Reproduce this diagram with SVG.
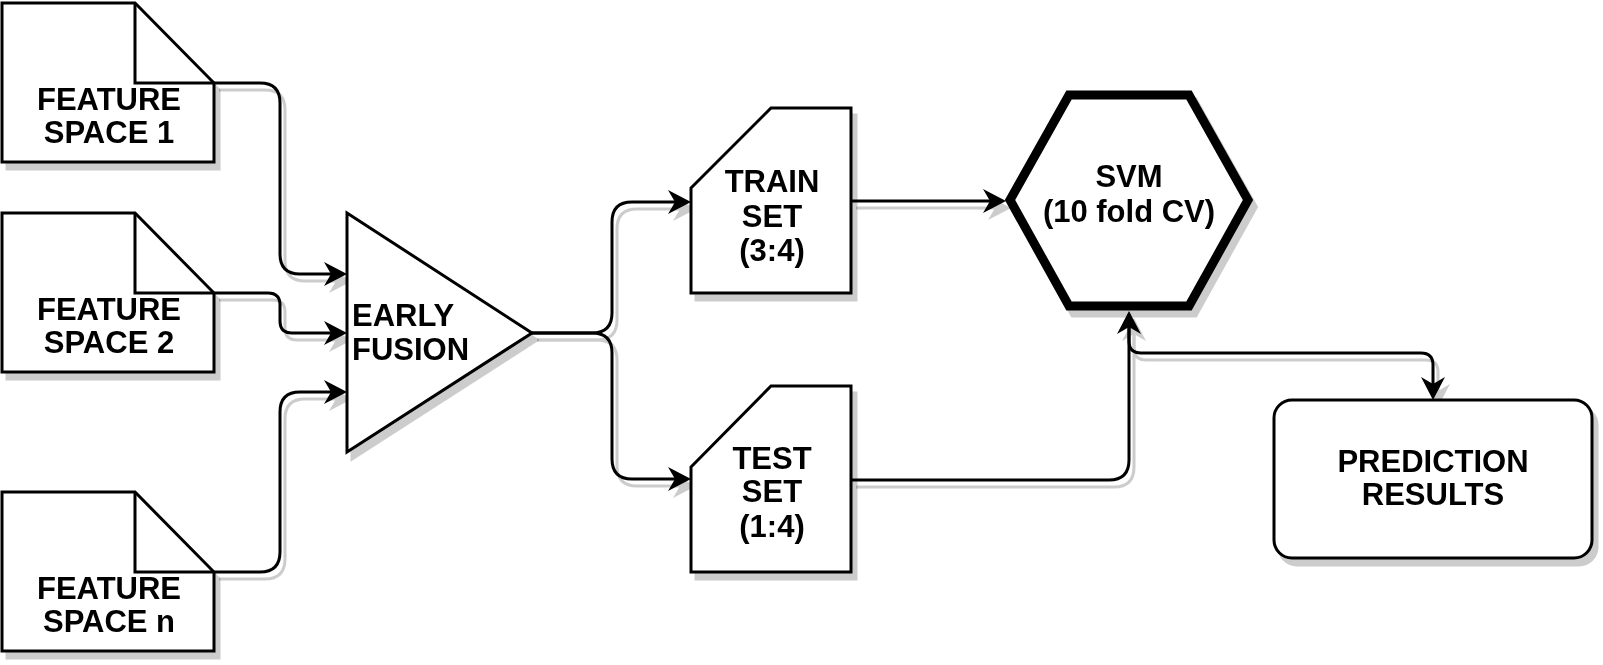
<svg xmlns="http://www.w3.org/2000/svg" width="1603" height="665" viewBox="0 0 1603 665">
<style>
.shape{fill:#fff;stroke:#000;stroke-width:3;stroke-linejoin:miter}
.fold{fill:none;stroke:#000;stroke-width:3}
.edge{fill:none;stroke:#000;stroke-width:3;marker-end:url(#arr)}
text{font-family:"Liberation Sans",Arial,Helvetica,sans-serif;font-weight:bold;font-size:31px;fill:#000}
.c{text-anchor:middle}
</style>
<defs>
<filter id="sh" filterUnits="userSpaceOnUse" x="0" y="0" width="1603" height="665">
<feOffset in="SourceAlpha" dx="5" dy="7" result="o"/>
<feFlood flood-color="#000" flood-opacity="0.2"/>
<feComposite in2="o" operator="in" result="s"/>
<feMerge><feMergeNode in="s"/><feMergeNode in="SourceGraphic"/></feMerge>
</filter>
<marker id="arr" markerUnits="userSpaceOnUse" viewBox="-11 -13 27 26" markerWidth="27" markerHeight="26" refX="0" refY="0" orient="auto" overflow="visible">
<path d="M14,0 L-9,-12 L-2,0 L-9,12 Z" fill="#000"/>
</marker>
</defs>
<rect width="1603" height="665" fill="#fff"/>

<g id="connectors" filter="url(#sh)">
<path class="edge" d="M214 83 L260 83 Q280 83 280 103 L280 254 Q280 274 300 274 L333 274"/>
<path class="edge" d="M214 293 L268 293 Q280 293 280 305 L280 321 Q280 333 292 333 L333 333"/>
<path class="edge" d="M214 572 L260 572 Q280 572 280 552 L280 412 Q280 392 300 392 L333 392"/>
<path class="edge" d="M532 333 L592 333 Q612 333 612 313 L612 222 Q612 202 632 202 L677 202"/>
<path class="edge" d="M532 333 L592 333 Q612 333 612 353 L612 459 Q612 479 632 479 L677 479"/>
<path class="edge" d="M851 201 L992 201"/>
<path class="edge" d="M851 480 L1109 480 Q1129 480 1129 460 L1129 325"/>
<path class="edge" d="M1129 314 L1129 341 Q1129 353 1141 353 L1421 353 Q1433 353 1433 365 L1433 386"/>
</g>

<g id="fs1" filter="url(#sh)">
<path class="shape" d="M2 3 L135 3 L214 83 L214 162 L2 162 Z"/>
<path class="fold" d="M135 3 L135 83 L214 83"/>
<text class="c" x="109" y="110">FEATURE</text>
<text class="c" x="109" y="143">SPACE 1</text>
</g>
<g id="fs2" filter="url(#sh)">
<path class="shape" d="M2 213 L135 213 L214 293 L214 372 L2 372 Z"/>
<path class="fold" d="M135 213 L135 293 L214 293"/>
<text class="c" x="109" y="320">FEATURE</text>
<text class="c" x="109" y="353">SPACE 2</text>
</g>
<g id="fsn" filter="url(#sh)">
<path class="shape" d="M2 492 L135 492 L214 572 L214 651 L2 651 Z"/>
<path class="fold" d="M135 492 L135 572 L214 572"/>
<text class="c" x="109" y="599">FEATURE</text>
<text class="c" x="109" y="632">SPACE n</text>
</g>
<g id="early-fusion" filter="url(#sh)">
<path class="shape" d="M347 213 L532 333 L347 452 Z"/>
<text x="352" y="326">EARLY</text>
<text x="352" y="360">FUSION</text>
</g>
<g id="train-set" filter="url(#sh)">
<path class="shape" d="M691 188 L771 108 L851 108 L851 293 L691 293 Z"/>
<text class="c" x="772" y="192">TRAIN</text>
<text class="c" x="772" y="227">SET</text>
<text class="c" x="772" y="261">(3:4)</text>
</g>
<g id="test-set" filter="url(#sh)">
<path class="shape" d="M691 467 L771 386 L851 386 L851 572 L691 572 Z"/>
<text class="c" x="772" y="469">TEST</text>
<text class="c" x="772" y="502">SET</text>
<text class="c" x="772" y="537">(1:4)</text>
</g>
<g id="svm" filter="url(#sh)">
<path class="shape" style="stroke-width:9" d="M1010 200 L1069 95 L1189 95 L1248 200 L1189 306 L1069 306 Z"/>
<text class="c" x="1129" y="187">SVM</text>
<text class="c" x="1129" y="222">(10 fold CV)</text>
</g>
<g id="prediction-results" filter="url(#sh)">
<rect class="shape" x="1274" y="400" width="318" height="158" rx="18" ry="18"/>
<text class="c" x="1433" y="472">PREDICTION</text>
<text class="c" x="1433" y="505">RESULTS</text>
</g>
</svg>
